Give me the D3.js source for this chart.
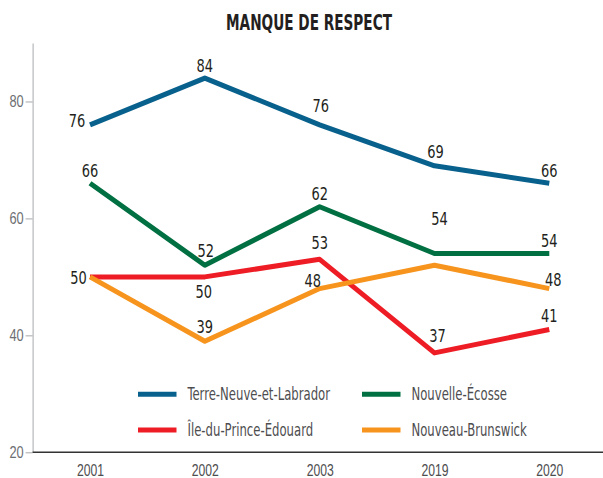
<!DOCTYPE html>
<html>
<head>
<meta charset="utf-8">
<script src="https://cdn.jsdelivr.net/npm/d3@7"></script>
<style>
  body { margin: 0; background: #fff; }
  svg { display: block; font-family: "Liberation Sans Narrow", "DejaVu Sans Condensed", sans-serif; }
</style>
</head>
<body>
<svg width="603" height="478"></svg>
<script>
const years = ["2001", "2002", "2003", "2019", "2020"];
const seriesNames = ["Terre-Neuve-et-Labrador", "Nouvelle-Écosse", "Île-du-Prince-Édouard", "Nouveau-Brunswick"];
const terreNeuve = [76, 84, 76, 69, 66];
const nouvelleEcosse = [66, 52, 62, 54, 54];
const ilePrinceEdouard = [50, 50, 53, 37, 41];
const nouveauBrunswick = [50, 39, 48, 52, 48];
const yTicks = [20, 40, 60, 80];

const colors = ["#08608c", "#006f41", "#ee1d25", "#f7941d"];

// label placement per point: [dx, dy] of the text centre, null = no label
const labelPlace = [
    [[-13, -5], [0, -13], [1, -20], [1, -14], [0, -13]],
    [[0, -13], [1, -15], [0, -13.5], [5, -35], [0, -13.6]],
    [[-11.5, 0], [-1, 14], [0, -17], [3, -18], [0, -14.6]],
    [null, [0, -14.5], [-7, -8.6], null, [4, -9.6]]
];

const allValues = [terreNeuve, nouvelleEcosse, ilePrinceEdouard, nouveauBrunswick];
const series = seriesNames.map((name, i) => ({ name, values: allValues[i], color: colors[i], place: labelPlace[i] }));

const squeeze = 0.78;

const svg = d3.select("svg");

const xScale = d3.scalePoint().domain(years).range([32.6, 606.7]).padding(0.5);
const yScale = d3.scaleLinear().domain([20, 90]).range([452.3, 43]);

// title
svg.append("text")
    .attr("x", 309)
    .attr("y", 30)
    .attr("text-anchor", "middle")
    .attr("font-size", 22)
    .attr("font-weight", "bold")
    .attr("fill", "#231f20")
    .attr("textLength", 166)
    .attr("lengthAdjust", "spacingAndGlyphs")
    .text("MANQUE DE RESPECT");

// y axis
const yAxis = svg.append("g")
    .attr("transform", `translate(${32.6},0)`)
    .call(d3.axisLeft(yScale).tickValues(yTicks).tickSize(7).tickPadding(2).tickSizeOuter(0));
yAxis.select(".domain").attr("stroke", "#a7a9ac");
yAxis.selectAll(".tick line").attr("stroke", "#a7a9ac");
yAxis.selectAll(".tick text")
    .attr("font-size", 16)
    .attr("fill", "#6d6e71")
    .attr("font-family", null)
    .attr("x", -9 / 0.8)
    .attr("transform", "scale(0.8,1)");

// x axis
const xAxis = svg.append("g")
    .attr("transform", `translate(0,${yScale(20)})`)
    .call(d3.axisBottom(xScale).tickSize(0).tickPadding(12).tickSizeOuter(0));
xAxis.select(".domain").attr("stroke", "#333").attr("stroke-width", 1.5).attr("d", "M32.6,0H603");
xAxis.selectAll(".tick text")
    .attr("font-size", 16)
    .attr("fill", "#4d4d4f")
    .attr("font-family", null)
    .attr("transform", "scale(0.76,1)");

// lines
const line = d3.line()
    .x((d, i) => xScale(years[i]))
    .y(d => yScale(d));

svg.selectAll(".series")
    .data(series)
    .join("path")
    .attr("class", "series")
    .attr("d", d => line(d.values))
    .attr("fill", "none")
    .attr("stroke", d => d.color)
    .attr("stroke-width", 5)
    .attr("stroke-linejoin", "round");

// value labels
series.forEach(s => {
    s.values.forEach((v, i) => {
        const p = s.place[i];
        if (p === null) return;
        svg.append("g")
            .attr("transform", `translate(${xScale(years[i]) + p[0]},${yScale(v) + p[1]}) scale(${squeeze},1)`)
            .append("text")
            .attr("font-size", 18.5)
            .attr("fill", "#231f20")
            .attr("dy", "0.36em")
            .attr("text-anchor", "middle")
            .text(v);
    });
});

// legend
const legendX = [138, 362];
const legendY = [394.3, 430];
const legend = svg.selectAll(".legend")
    .data(series)
    .join("g")
    .attr("class", "legend")
    .attr("transform", (d, i) => `translate(${legendX[i % 2]},${legendY[Math.floor(i / 2)]})`);

legend.append("line")
    .attr("x1", 0)
    .attr("x2", 38.5)
    .attr("stroke", d => d.color)
    .attr("stroke-width", 5);

const legendText = legend.append("g")
    .attr("transform", "translate(49.5,0)")
    .append("text")
    .attr("dy", "0.36em")
    .attr("font-size", 17)
    .attr("fill", "#4d4d4f")
    .text(d => d.name);

const firstWidth = legendText.node().getComputedTextLength();
const legendSqueeze = 142.7 / firstWidth;
legendText.attr("transform", `scale(${legendSqueeze},1)`);
</script>
</body>
</html>
